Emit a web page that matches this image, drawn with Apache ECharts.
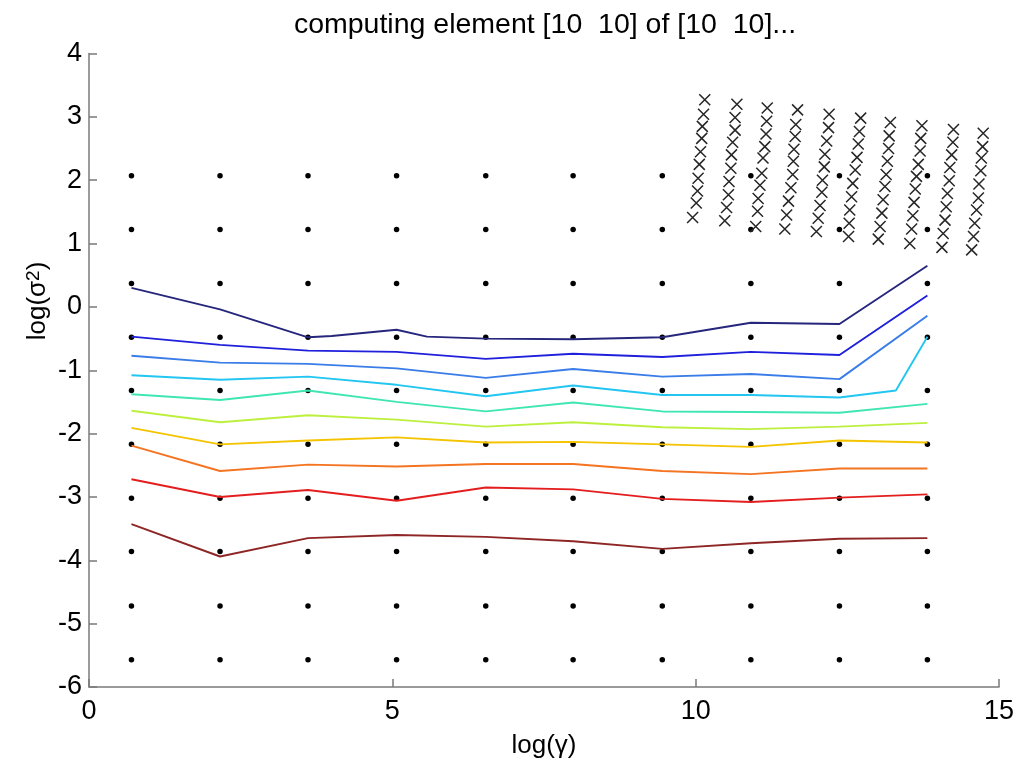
<!DOCTYPE html>
<html>
<head>
<meta charset="utf-8">
<script src="https://cdn.jsdelivr.net/npm/echarts@6/dist/echarts.min.js"></script>
<style>html,body{margin:0;padding:0;background:#fff;}#c{width:1017px;height:767px;}</style>
</head>
<body>
<div id="c"></div>
<script>
// Grid of evaluated points (log gamma, log sigma^2)
const gammaGrid = [0.70, 2.16, 3.61, 5.07, 6.54, 7.98, 9.45, 10.91, 12.37, 13.82];
const sigmaGrid = [2.07, 1.22, 0.37, -0.48, -1.32, -2.17, -3.02, -3.86, -4.72, -5.57];

// Contour lines (ordered top to bottom)
const contour1 = [[0.70,0.30],[2.16,-0.04],[3.61,-0.48],[4.00,-0.46],[5.07,-0.36],[5.57,-0.47],[6.54,-0.50],[7.98,-0.51],[9.45,-0.48],[10.91,-0.25],[12.37,-0.27],[13.82,0.65]];
const contour2 = [[0.70,-0.47],[2.16,-0.60],[3.61,-0.69],[5.07,-0.71],[6.54,-0.82],[7.98,-0.74],[9.45,-0.79],[10.91,-0.71],[12.37,-0.76],[13.82,0.18]];
const contour3 = [[0.70,-0.77],[2.16,-0.88],[3.61,-0.90],[5.07,-0.97],[6.54,-1.12],[7.98,-0.98],[9.45,-1.10],[10.91,-1.06],[12.37,-1.14],[13.82,-0.14]];
const contour4 = [[0.70,-1.08],[2.16,-1.15],[3.61,-1.10],[5.07,-1.23],[6.54,-1.41],[7.98,-1.24],[9.45,-1.39],[10.91,-1.39],[12.37,-1.43],[13.30,-1.32],[13.82,-0.47]];
const contour5 = [[0.70,-1.38],[2.16,-1.47],[3.61,-1.32],[5.07,-1.50],[6.54,-1.65],[7.98,-1.51],[9.45,-1.65],[10.91,-1.66],[12.37,-1.67],[13.82,-1.53]];
const contour6 = [[0.70,-1.64],[2.16,-1.82],[3.61,-1.71],[5.07,-1.78],[6.54,-1.89],[7.98,-1.82],[9.45,-1.90],[10.91,-1.93],[12.37,-1.89],[13.82,-1.83]];
const contour7 = [[0.70,-1.91],[2.16,-2.17],[3.61,-2.11],[5.07,-2.06],[6.54,-2.14],[7.98,-2.13],[9.45,-2.17],[10.91,-2.21],[12.37,-2.11],[13.82,-2.14]];
const contour8 = [[0.70,-2.19],[2.16,-2.59],[3.61,-2.49],[5.07,-2.52],[6.54,-2.48],[7.98,-2.48],[9.45,-2.59],[10.91,-2.64],[12.37,-2.55],[13.82,-2.55]];
const contour9 = [[0.70,-2.72],[2.16,-3.00],[3.61,-2.89],[5.07,-3.06],[6.54,-2.85],[7.98,-2.88],[9.45,-3.03],[10.91,-3.08],[12.37,-3.01],[13.82,-2.96]];
const contour10 = [[0.70,-3.43],[2.16,-3.94],[3.61,-3.65],[5.07,-3.60],[6.54,-3.63],[7.98,-3.70],[9.45,-3.82],[10.91,-3.73],[12.37,-3.66],[13.82,-3.65]];

// Cross markers (upper right), one array per slanted column
const crossCol1 = [[10.15,3.27],[10.13,3.04],[10.11,2.85],[10.10,2.66],[10.08,2.45],[10.06,2.25],[10.04,2.03],[10.03,1.83],[10.01,1.64],[9.95,1.41]];
const crossCol2 = [[10.68,3.20],[10.65,2.99],[10.65,2.79],[10.61,2.60],[10.59,2.40],[10.58,2.19],[10.55,1.98],[10.54,1.77],[10.51,1.57],[10.48,1.36]];
const crossCol3 = [[11.18,3.14],[11.17,2.93],[11.16,2.73],[11.14,2.53],[11.11,2.35],[11.09,2.11],[11.06,1.92],[11.03,1.71],[11.02,1.51],[10.99,1.27]];
const crossCol4 = [[11.68,3.11],[11.65,2.88],[11.64,2.69],[11.62,2.49],[11.61,2.30],[11.60,2.09],[11.57,1.88],[11.53,1.67],[11.50,1.45],[11.47,1.23]];
const crossCol5 = [[12.20,3.04],[12.19,2.83],[12.16,2.62],[12.13,2.41],[12.12,2.21],[12.09,2.00],[12.08,1.81],[12.05,1.60],[12.02,1.40],[11.99,1.19]];
const crossCol6 = [[12.72,2.98],[12.70,2.77],[12.68,2.57],[12.66,2.36],[12.63,2.16],[12.59,1.95],[12.57,1.74],[12.54,1.53],[12.53,1.32],[12.52,1.11]];
const crossCol7 = [[13.21,2.91],[13.19,2.70],[13.18,2.50],[13.16,2.30],[13.14,2.09],[13.12,1.90],[13.09,1.69],[13.07,1.48],[13.04,1.27],[13.01,1.07]];
const crossCol8 = [[13.73,2.86],[13.71,2.66],[13.70,2.46],[13.67,2.25],[13.64,2.06],[13.62,1.86],[13.60,1.65],[13.58,1.44],[13.56,1.23],[13.53,1.00]];
const crossCol9 = [[14.25,2.80],[14.24,2.60],[14.22,2.40],[14.19,2.20],[14.18,1.99],[14.15,1.79],[14.13,1.58],[14.11,1.37],[14.08,1.16],[14.06,0.94]];
const crossCol10 = [[14.74,2.74],[14.73,2.53],[14.71,2.35],[14.70,2.15],[14.67,1.94],[14.66,1.72],[14.63,1.53],[14.60,1.32],[14.58,1.11],[14.55,0.90]];

const xTicks = [0, 5, 10, 15];
const yTicks = [-6, -5, -4, -3, -2, -1, 0, 1, 2, 3, 4];

const contours = [contour1, contour2, contour3, contour4, contour5, contour6, contour7, contour8, contour9, contour10];
const contourColors = ['#26267c', '#2020dc', '#3a7de8', '#22c6f0', '#40e6b2', '#bdf03e', '#f4c400', '#f47422', '#e41e1e', '#8e2626'];
const crossCols = [crossCol1, crossCol2, crossCol3, crossCol4, crossCol5, crossCol6, crossCol7, crossCol8, crossCol9, crossCol10];

const dots = [];
gammaGrid.forEach(g => sigmaGrid.forEach(s => dots.push([g, s])));

const FONT = '"Liberation Sans", Arial, sans-serif';
const series = [];
series.push({
  type: 'scatter', data: dots, symbol: 'circle', symbolSize: 5.5,
  itemStyle: { color: '#000', opacity: 1 }, silent: true, z: 2
});
contours.forEach((c, i) => {
  series.push({
    type: 'line', data: c, showSymbol: false, symbol: 'none', smooth: false,
    lineStyle: { color: contourColors[i], width: 1.9 }, silent: true, z: 3
  });
});
crossCols.forEach(col => {
  series.push({
    type: 'scatter', data: col, symbol: 'path://M0,0L10,10M10,0L0,10', symbolSize: 11,
    itemStyle: { color: 'rgba(0,0,0,0)', borderColor: '#262626', borderWidth: 1.5, opacity: 1 }, silent: true, z: 4
  });
});

const chart = echarts.init(document.getElementById('c'), null, { renderer: 'canvas' });
chart.setOption({
  animation: false,
  backgroundColor: '#fff',
  title: {
    text: 'computing element [10  10] of [10  10]...',
    left: 540, top: 6, textAlign: 'center',
    textStyle: { fontFamily: FONT, fontSize: 28.5, fontWeight: 'normal', color: '#000' }
  },
  grid: { left: 89, right: 18, top: 53.5, bottom: 80, containLabel: false },
  xAxis: {
    type: 'value', min: xTicks[0], max: xTicks[xTicks.length - 1], interval: 5,
    name: 'log(γ)', nameLocation: 'middle', nameGap: 46,
    nameTextStyle: { fontFamily: FONT, fontSize: 26, color: '#000' },
    axisLine: { show: true, onZero: false, lineStyle: { color: '#7a7a7a', width: 1.5 } },
    axisTick: { show: true, inside: true, length: 8, lineStyle: { color: '#7a7a7a', width: 1.5 } },
    axisLabel: { fontFamily: FONT, fontSize: 27, color: '#000', margin: 11 },
    splitLine: { show: false }
  },
  yAxis: {
    type: 'value', min: yTicks[0], max: yTicks[yTicks.length - 1], interval: 1,
    axisLine: { show: true, onZero: false, lineStyle: { color: '#7a7a7a', width: 1.5 } },
    axisTick: { show: true, inside: true, length: 8, lineStyle: { color: '#7a7a7a', width: 1.5 } },
    axisLabel: { fontFamily: FONT, fontSize: 27, color: '#000', margin: 7 },
    splitLine: { show: false }
  },
  graphic: [{
    type: 'text', x: 38, y: 301, rotation: Math.PI / 2,
    style: {
      text: 'log(σ{s|2})', font: '26px ' + FONT, fill: '#000', align: 'center', verticalAlign: 'middle',
      rich: { s: { fontSize: 19, fontFamily: FONT, verticalAlign: 'top', padding: [0, 0, 8, 0] } }
    }
  }],
  series: series
});
</script>
</body>
</html>
